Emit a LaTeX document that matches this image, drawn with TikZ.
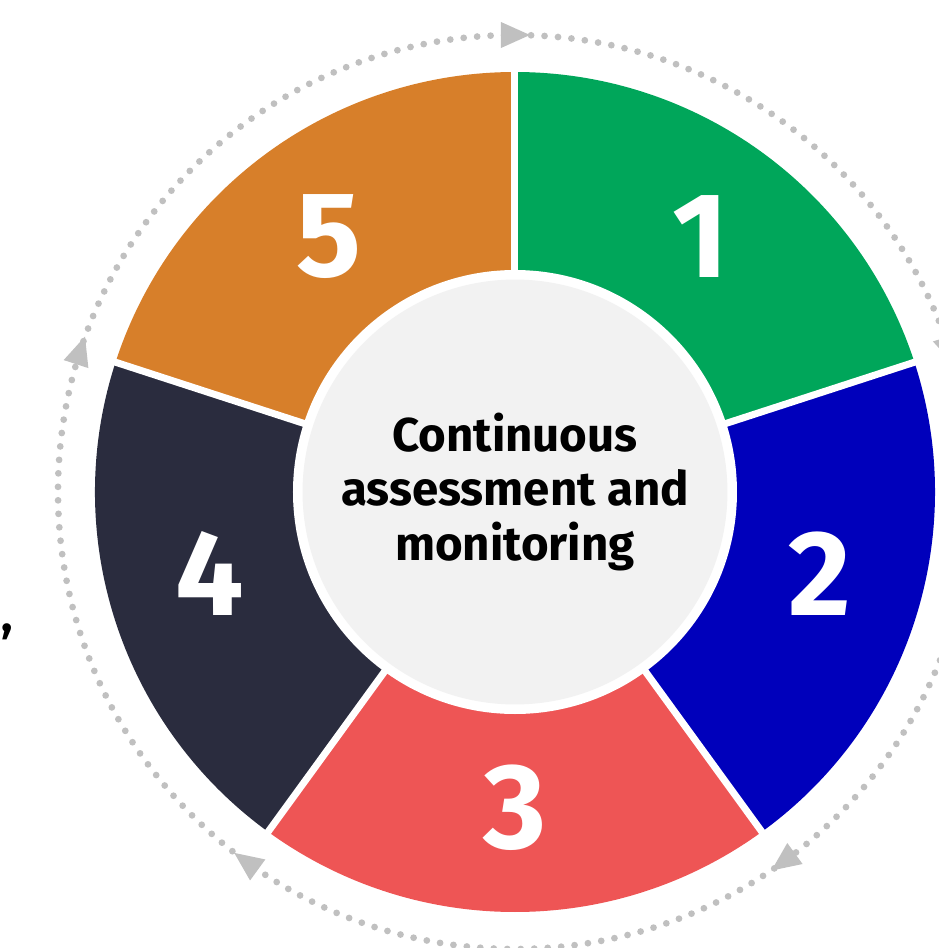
\documentclass[tikz,border=0pt]{standalone}
\usepackage{fontspec}
\setmainfont{Fira Sans}
\usetikzlibrary{positioning}
\definecolor{stepone}{HTML}{00A65A}
\definecolor{steptwo}{HTML}{0000BB}
\definecolor{stepthree}{HTML}{EE5555}
\definecolor{stepfour}{HTML}{2A2C3E}
\definecolor{stepfive}{HTML}{D77F2A}
\definecolor{centregray}{HTML}{F2F2F2}
\definecolor{ringgray}{HTML}{C0C0C0}
\tikzset{
  numlabel/.style={text=white,font=\fontsize{69pt}{69pt}\selectfont\bfseries,inner sep=0pt},
  centrelabel/.style={circle,fill=centregray,minimum size=8.5cm,align=center,
    font=\fontsize{27pt}{31pt}\selectfont\bfseries}
}
\begin{document}
\begin{tikzpicture}[x=0.02cm,y=0.02cm]
  \useasboundingbox (-515,-456) rectangle (423,492);
  % dotted cycle ring with clockwise heads
  \draw[ringgray, line width=0.135cm, line cap=round, dash pattern=on 0pt off 0.27cm] (0,0) circle[radius=457];
  \foreach \a in {90,18,-54,-126,-198}
    \fill[ringgray, rotate=\a] (457,-15) -- (444,14) -- (470,14) -- cycle;
  % the five sectors
  \foreach \s/\e/\c in {18/90/stepone,-54/18/steptwo,-126/-54/stepthree,-198/-126/stepfour,-270/-198/stepfive}
    \fill[\c] (0,0) -- (\s:420) arc[start angle=\s, end angle=\e, radius=420] -- cycle;
  \foreach \a in {90,18,-54,-126,-198}
    \draw[white, line width=0.14cm] (0,0) -- (\a:425);
  \fill[white] (0,0) circle[radius=222];
  \node[centrelabel] (centre) at (0,0) {Continuous\\assessment and\\monitoring};
  % step numbers
  \node[numlabel] (one) at (54:316) {1};
  \node[numlabel] (two) at (-15:316) {2};
  \node[numlabel] (three) at (-90:316) {3};
  \node[numlabel] (four) at (195:316) {4};
  \node[numlabel] (five) at (126:316) {5};
  \node[font=\fontsize{27pt}{31pt}\selectfont\bfseries, inner sep=0pt] (comma) at (-508,-140) {,};
\end{tikzpicture}
\end{document}
